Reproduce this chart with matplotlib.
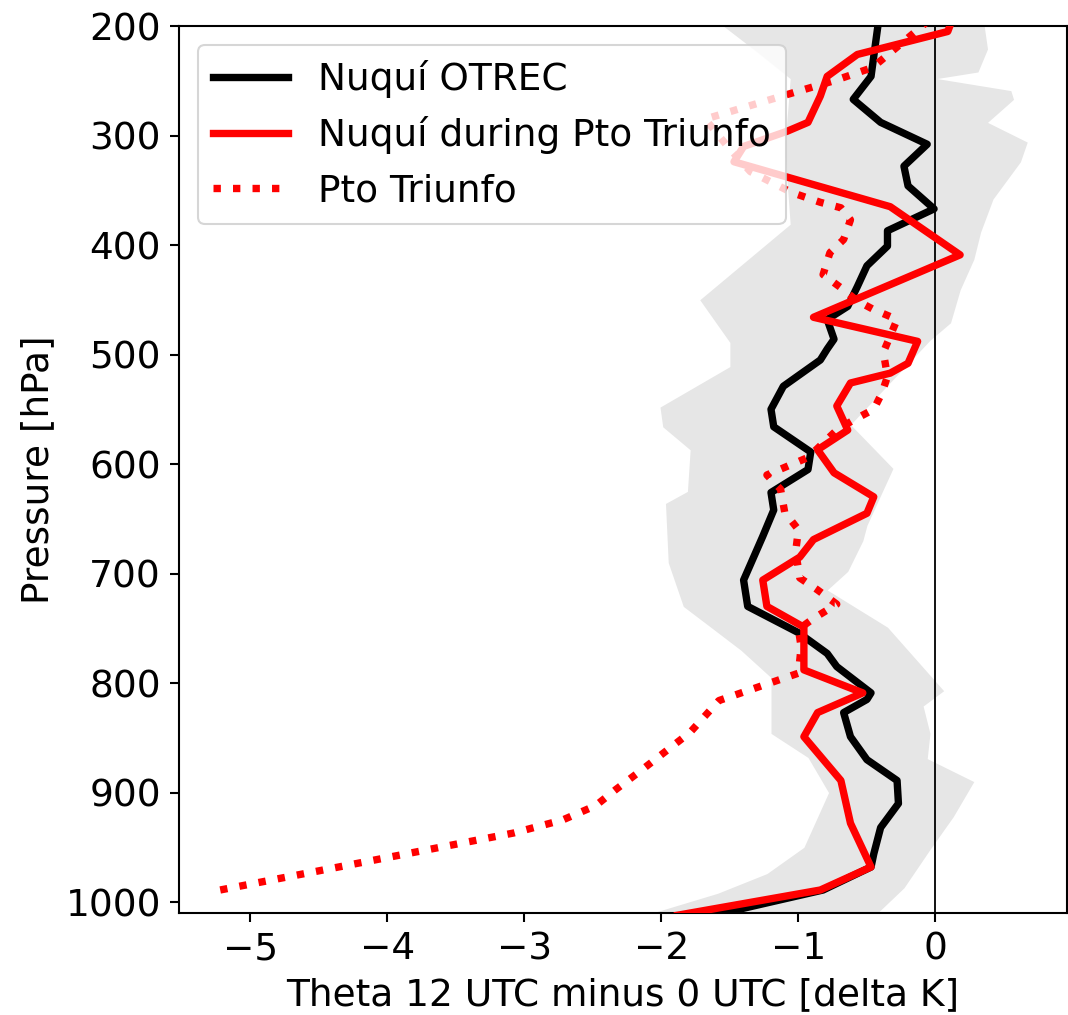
import matplotlib
matplotlib.use("Agg")
import matplotlib.pyplot as plt
import numpy as np

# ---------------- data ----------------
# Nuqui OTREC mean profile
p_otrec = [1012, 989, 968, 956, 932, 910, 889, 870, 849, 827, 815, 809, 785, 773,
           754, 730, 706, 666, 642, 626, 605, 589, 566, 550, 529, 505, 495, 486,
           468, 456, 438, 419, 401, 387, 367, 346, 328, 308, 288, 267, 246, 200, 190]
v_otrec = [-1.62, -0.82, -0.47, -0.45, -0.40, -0.27, -0.28, -0.50, -0.62, -0.67, -0.50,
           -0.47, -0.72, -0.79, -1.00, -1.37, -1.40, -1.26, -1.18, -1.20, -0.93, -0.91,
           -1.18, -1.20, -1.11, -0.84, -0.79, -0.74, -0.79, -0.64, -0.57, -0.50, -0.35,
           -0.35, -0.01, -0.20, -0.23, -0.06, -0.40, -0.60, -0.47, -0.42, -0.40]

# Nuqui during Pto Triunfo
p_nuqui_pt = [195, 205, 226, 246, 264, 288, 296, 310, 324, 365, 409, 466, 488, 508,
              517, 526, 547, 569, 587, 608, 630, 645, 669, 685, 706, 730, 749, 788,
              809, 827, 849, 889, 928, 968, 989, 1012]
v_nuqui_pt = [0.12, 0.09, -0.57, -0.79, -0.84, -0.93, -1.08, -1.40, -1.47, -0.33, 0.18,
              -0.89, -0.13, -0.20, -0.33, -0.62, -0.72, -0.64, -0.86, -0.74, -0.45,
              -0.50, -0.89, -0.99, -1.26, -1.23, -0.96, -0.96, -0.53, -0.86, -0.96,
              -0.69, -0.62, -0.47, -0.84, -1.88]

# Pto Triunfo
p_pt = [195, 214, 238, 250, 261, 285, 311, 333, 352, 361, 366, 377, 395, 407, 427,
        439, 451, 459, 468, 498, 520, 535, 550, 560, 569, 594, 610, 623, 644, 660,
        680, 704, 715, 728, 741, 751, 767, 791, 816, 845, 880, 897, 912, 925, 937, 989]
v_pt = [-0.05, -0.23, -0.46, -0.74, -1.04, -1.68, -1.51, -1.35, -1.05, -0.84, -0.69,
        -0.62, -0.67, -0.77, -0.82, -0.69, -0.57, -0.45, -0.28, -0.38, -0.35, -0.39,
        -0.45, -0.60, -0.72, -0.93, -1.23, -1.13, -1.10, -1.00, -1.02, -0.99, -0.86,
        -0.72, -0.89, -1.00, -0.98, -1.00, -1.58, -1.79, -2.15, -2.33, -2.48, -2.72,
        -3.08, -5.22]

# spread (grey band) of Nuqui OTREC
p_band_lo = [195, 221, 248, 312, 381, 450, 489, 511, 548, 566, 587, 625, 636, 690,
             730, 749, 770, 795, 846, 868, 900, 950, 974, 992, 1012]
v_band_lo = [-1.60, -1.33, -1.06, -1.10, -1.06, -1.72, -1.50, -1.50, -2.01, -1.99,
             -1.79, -1.81, -1.97, -1.95, -1.84, -1.64, -1.42, -1.20, -1.20, -0.93,
             -0.78, -0.96, -1.23, -1.59, -2.12]
p_band_hi = [195, 221, 242, 248, 259, 267, 288, 306, 324, 358, 388, 413, 441, 471,
             487, 564, 604, 656, 670, 698, 715, 749, 807, 821, 846, 869, 890, 922,
             952, 987, 1012]
v_band_hi = [0.35, 0.38, 0.31, 0.01, 0.55, 0.57, 0.38, 0.67, 0.62, 0.42, 0.33, 0.28,
             0.18, 0.11, -0.04, -0.62, -0.31, -0.50, -0.53, -0.64, -0.79, -0.35, 0.06,
             -0.09, -0.04, -0.06, 0.28, 0.13, -0.04, -0.23, -0.44]

xticks = [-5, -4, -3, -2, -1, 0]
yticks = [200, 300, 400, 500, 600, 700, 800, 900, 1000]

# ---------------- figure ----------------
FS = 27
plt.rcParams['font.family'] = ['DejaVu Sans']
fig = plt.figure(figsize=(10.68, 10.15), dpi=100)
ax = fig.add_axes([179 / 1068, 102 / 1015, 888 / 1068, 887 / 1015])

# grey band: build a common pressure grid from both edges
p_grid = np.array(sorted(set(p_band_lo) | set(p_band_hi)), dtype=float)
lo = np.interp(p_grid, p_band_lo, v_band_lo)
hi = np.interp(p_grid, p_band_hi, v_band_hi)
ax.fill_betweenx(p_grid, lo, hi, color='0.9', lw=0, zorder=1)

ax.axvline(0, color='k', lw=1.3, zorder=2)

ax.plot(v_otrec, p_otrec, color='k', lw=5.3, label='Nuquí OTREC', zorder=3)
ax.plot(v_nuqui_pt, p_nuqui_pt, color='r', lw=5.3,
        label='Nuquí during Pto Triunfo', zorder=4)
ax.plot(v_pt, p_pt, color='r', lw=5.3, ls=':', label='Pto Triunfo', zorder=4)

ax.set_xlim(-5.52, 0.96)
ax.set_ylim(1010, 200)
ax.set_xticks(xticks)
ax.set_yticks(yticks)
ax.tick_params(labelsize=FS, length=6.5, width=1.5, pad=6.5)
for s in ax.spines.values():
    s.set_linewidth(1.5)

ax.set_xlabel('Theta 12 UTC minus 0 UTC [delta K]', fontsize=FS, labelpad=7)
ax.set_ylabel('Pressure [hPa]', fontsize=FS, labelpad=7)

leg = ax.legend(loc='upper left', fontsize=FS, framealpha=0.8)
leg.get_frame().set_linewidth(1.5)
leg.set_zorder(10)

fig.savefig('out.png', dpi=100)
